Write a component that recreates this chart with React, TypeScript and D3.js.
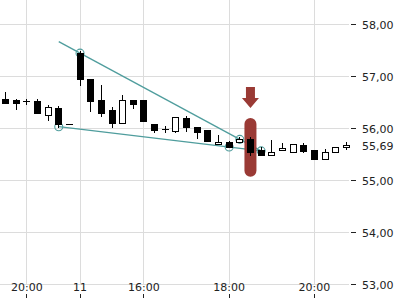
import React from "react";
import * as d3 from "d3";

// ---- data (15-minute candles, index based) ----
const openV = [56.57, 56.55, 56.53, 56.53, 56.25, 56.39, 56.08, 57.45, 56.95, 56.55, 56.36, 56.10, 56.55, 56.55, 56.08, 55.99, 55.96, 56.20, 56.02, 55.97, 55.70, 55.74, 55.74, 55.79, 55.58, 55.50, 55.59, 55.55, 55.68, 55.59, 55.41, 55.55, 55.64];
const highV = [56.70, 56.56, 56.57, 56.57, 56.45, 56.44, 56.08, 57.49, 56.95, 56.84, 56.42, 56.64, 56.55, 56.55, 56.08, 56.05, 56.22, 56.24, 56.02, 55.97, 55.87, 55.76, 55.83, 55.83, 55.64, 55.77, 55.72, 55.70, 55.72, 55.59, 55.61, 55.65, 55.74];
const lowV = [56.49, 56.38, 56.48, 56.29, 56.16, 56.03, 56.08, 56.84, 56.34, 56.24, 56.03, 56.10, 56.39, 56.15, 55.94, 55.94, 55.94, 55.96, 55.82, 55.76, 55.70, 55.64, 55.74, 55.49, 55.50, 55.50, 55.59, 55.55, 55.55, 55.41, 55.41, 55.55, 55.60];
const closeV = [56.50, 56.50, 56.53, 56.29, 56.41, 56.08, 56.08, 56.96, 56.53, 56.30, 56.10, 56.55, 56.48, 56.15, 55.97, 55.99, 56.22, 56.02, 55.93, 55.76, 55.74, 55.65, 55.79, 55.54, 55.50, 55.55, 55.63, 55.70, 55.57, 55.41, 55.54, 55.65, 55.69];

const xTickIdx = [2, 7, 13, 21, 29];
const xTickLabels = ["20:00", "11", "16:00", "18:00", "20:00"];
const yTicks = [53, 54, 55, 56, 57, 58];
const lastPrice = 55.69;

// trend lines: [startIdx, startPrice, endIdx, endPrice]
const upperLine = [5, 57.67, 24, 55.57];
const lowerLine = [5, 56.035, 24, 55.57];
const upperAnchors = [7, 22];
const lowerAnchors = [5, 21];
const apexIdx = 24;
const highlightIdx = 23;
const highlightRange = [55.07, 56.2];

const fmt = (v: number) => v.toFixed(2).replace(".", ",");

export default function App() {
  const W = 400, H = 300;
  const x = d3.scaleLinear().domain([0, 32]).range([5.5, 346.3]);
  const y = d3.scaleLinear().domain([53, 58]).range([284.5, 24.5]);
  const plotRight = 349;
  const crisp = (v: number) => Math.floor(v) + 0.5;
  const teal = "#4f9d9d";
  const red = "#9a3a35";

  const lineAt = (l: number[], i: number) => l[1] + ((l[3] - l[1]) * (i - l[0])) / (l[2] - l[0]);

  const circles: [number, number][] = [
    ...upperAnchors.map((i) => [i, lineAt(upperLine, i)] as [number, number]),
    ...lowerAnchors.map((i) => [i, lineAt(lowerLine, i)] as [number, number]),
    [apexIdx, lineAt(lowerLine, apexIdx)],
  ];

  const hx = x(highlightIdx);

  return (
    <svg width={W} height={H} style={{ position: "absolute", left: 0, top: 0, background: "#fff" }}
      fontFamily="DejaVu Sans" fontSize={11}>
      {/* grid */}
      {yTicks.map((t) => (
        <line key={"gy" + t} x1={0} x2={plotRight} y1={y(t)} y2={y(t)} stroke="#dcdcdc" />
      ))}
      {xTickIdx.map((i) => (
        <line key={"gx" + i} x1={crisp(x(i))} x2={crisp(x(i))} y1={0} y2={y(53)} stroke="#dcdcdc" />
      ))}
      {/* trend lines */}
      {[upperLine, lowerLine].map((l, k) => (
        <line key={"tl" + k} x1={x(l[0])} y1={y(l[1])} x2={x(l[2])} y2={y(l[3])} stroke={teal} strokeWidth={1.3} />
      ))}
      {circles.map(([i, p], k) => (
        <circle key={"c" + k} cx={x(i)} cy={y(p)} r={4} fill="none" stroke={teal} strokeWidth={1.1} />
      ))}
      {/* highlight pill */}
      <rect x={hx - 6} width={12} y={y(highlightRange[1])} height={y(highlightRange[0]) - y(highlightRange[1])}
        rx={6} fill={red} />
      {/* arrow */}
      <path d={`M${hx - 4.5},87 L${hx + 4.5},87 L${hx + 4.5},98 L${hx + 8.5},98 L${hx},108 L${hx - 8.5},98 L${hx - 4.5},98 Z`} fill={red} />
      {/* candles */}
      {openV.map((o, i) => {
        const c = closeV[i];
        const px = crisp(x(i));
        const top = Math.round(y(Math.max(o, c))) + 0.5;
        const bot = Math.round(y(Math.min(o, c))) + 0.5;
        const down = c < o;
        return (
          <g key={"k" + i}>
            <line x1={px} x2={px} y1={Math.round(y(highV[i]))} y2={Math.round(y(lowV[i])) + 1} stroke="#000" />
            {bot - top < 1 ? (
              <line x1={px - 3.5} x2={px + 3.5} y1={top} y2={top} stroke="#000" />
            ) : (
              <rect x={px - 3} width={6} y={top} height={bot - top} fill={down ? "#000" : "#fff"} stroke="#000" />
            )}
          </g>
        );
      })}
      {/* right axis */}
      {yTicks.map((t) => (
        <g key={"ry" + t}>
          <line x1={351} x2={356} y1={y(t)} y2={y(t)} stroke="#222" />
          <text x={362} y={y(t) + 4.5} fill="#222">{fmt(t)}</text>
        </g>
      ))}
      <text x={362} y={y(lastPrice) + 5} fill="#222">{fmt(lastPrice)}</text>
      {/* bottom axis */}
      {xTickIdx.map((i, k) => (
        <g key={"bx" + i}>
          <line x1={crisp(x(i))} x2={crisp(x(i))} y1={294} y2={298} stroke="#222" />
          <text x={x(i)} y={291} textAnchor="middle" fill="#222">{xTickLabels[k]}</text>
        </g>
      ))}
    </svg>
  );
}
